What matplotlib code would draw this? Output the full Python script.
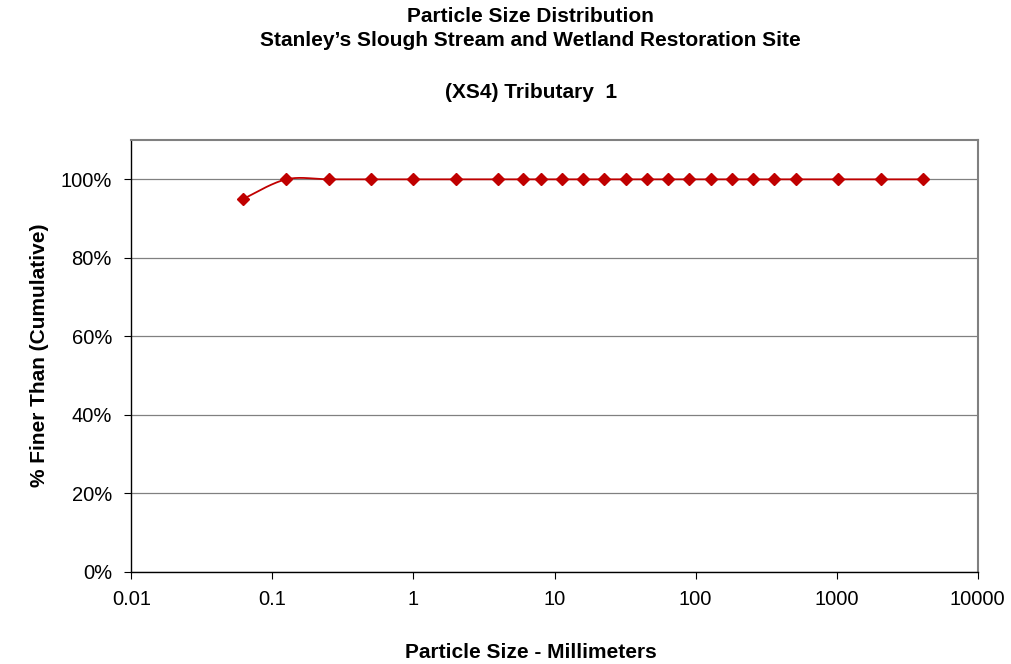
import numpy as np
import matplotlib
matplotlib.use("Agg")
import matplotlib.pyplot as plt
from matplotlib.ticker import FuncFormatter, FixedLocator, NullLocator

plt.rcParams['font.family'] = ['Liberation Sans', 'DejaVu Sans']

# sieve sizes (mm) and cumulative percent finer
sizes = [0.062, 0.125, 0.25, 0.5, 1, 2, 4, 6, 8, 11.3, 16, 22.6, 32, 45,
         64, 90, 128, 180, 256, 362, 512, 1024, 2048, 4096]
pct_finer = [0.95] + [1.0] * 23

title_lines = ["Particle Size Distribution",
               "Stanley\u2019s Slough Stream and Wetland Restoration Site"]
subtitle = "(XS4) Tributary  1"
x_label = "Particle Size - Millimeters"
y_label = "% Finer Than (Cumulative)"

red = "#C00000"


def smooth(xs, ys, n=30):
    # Excel-like smoothed line: Catmull-Rom bezier in log-x space
    lx = np.log10(xs)
    ys = np.asarray(ys, dtype=float)
    pts = np.column_stack([lx, ys])
    out = []
    for i in range(len(pts) - 1):
        p0 = pts[i - 1] if i > 0 else pts[i]
        p1 = pts[i]
        p2 = pts[i + 1]
        p3 = pts[i + 2] if i + 2 < len(pts) else pts[i + 1]
        c1 = p1 + (p2 - p0) / 6.0
        c2 = p2 - (p3 - p1) / 6.0
        t = np.linspace(0, 1, n)[:, None]
        seg = ((1 - t) ** 3) * p1 + 3 * ((1 - t) ** 2) * t * c1 \
            + 3 * (1 - t) * t ** 2 * c2 + t ** 3 * p2
        out.append(seg if i == 0 else seg[1:])
    out = np.vstack(out)
    return 10 ** out[:, 0], out[:, 1]


fig = plt.figure(figsize=(10.11, 6.64), dpi=100)
ax = fig.add_axes([0.130, 0.139, 0.837, 0.650])

sx, sy = smooth(sizes, pct_finer)
ax.plot(sx, sy, color=red, lw=1.3, zorder=3)
ax.plot(sizes, pct_finer, linestyle="none", marker="D", ms=6.5,
        color=red, zorder=4)

ax.set_xscale("log")
ax.set_xlim(0.01, 10000)
ax.set_ylim(0, 1.1)
ax.xaxis.set_major_locator(FixedLocator([0.01, 0.1, 1, 10, 100, 1000, 10000]))
ax.xaxis.set_minor_locator(NullLocator())
ax.xaxis.set_major_formatter(FuncFormatter(lambda v, p: "%g" % v))
ax.yaxis.set_major_locator(FixedLocator([0, 0.2, 0.4, 0.6, 0.8, 1.0]))
ax.yaxis.set_major_formatter(FuncFormatter(lambda v, p: "%d%%" % round(v * 100)))

ax.grid(True, axis="y", color="#808080", lw=0.9)
ax.set_axisbelow(True)
ax.tick_params(axis="both", direction="out", length=5, width=0.8,
               labelsize=14.5, color="black")
ax.tick_params(axis="x", pad=8)
ax.tick_params(axis="y", pad=9)

for s in ["top", "right"]:
    ax.spines[s].set_color("#808080")
    ax.spines[s].set_linewidth(1.5)
for s in ["left", "bottom"]:
    ax.spines[s].set_color("black")
    ax.spines[s].set_linewidth(1.0)

fs = 15
fig.text(0.525, 1 - 17 / 664, title_lines[0], ha="center", va="center",
         fontsize=fs, fontweight="bold")
fig.text(0.525, 1 - 41 / 664, title_lines[1], ha="center", va="center",
         fontsize=fs, fontweight="bold")
fig.text(0.525, 1 - 92 / 664, subtitle, ha="center", va="center",
         fontsize=fs, fontweight="bold")
fig.text(0.525, 1 - 652 / 664, x_label, ha="center", va="center",
         fontsize=fs, fontweight="bold")
fig.text(40 / 1011, 1 - 355 / 664, y_label, ha="center", va="center",
         rotation=90, fontsize=fs, fontweight="bold")

fig.savefig("out.png", dpi=100)
